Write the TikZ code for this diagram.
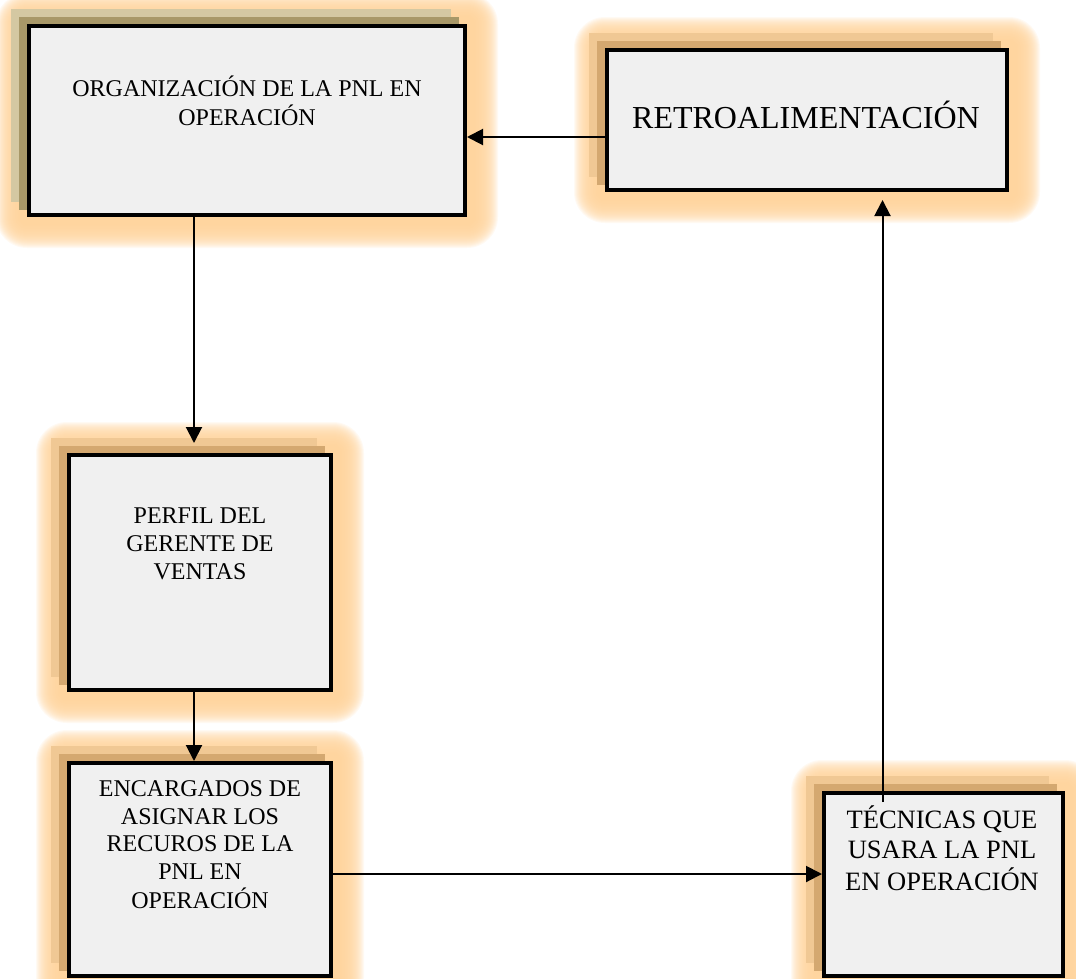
\documentclass[tikz,border=0pt]{standalone}
\usepackage{fontspec}
\setmainfont{Liberation Serif}
\usetikzlibrary{arrows.meta}

\definecolor{glowc}{RGB}{255,211,155}
\definecolor{boxfill}{RGB}{240,240,240}
\definecolor{shdarkA}{RGB}{168,152,104}
\definecolor{shlightA}{RGB}{212,200,162}
\definecolor{shdark}{RGB}{212,168,112}
\definecolor{shlight}{RGB}{240,200,148}

% soft orange halo round a box: many faint rounded layers
\newcommand{\halo}[1]{%
  \foreach \d in {6,7,...,31}{%
    \fill[glowc, opacity=0.12, rounded corners=\d pt]
      ([shift={(-\d,-\d)}]#1.north west) rectangle ([shift={(\d,\d)}]#1.south east);
  }%
}
% two stacked offset shadows
\newcommand{\boxshadow}[3]{%
  \fill[#2] ([shift={(-16,-15)}]#1.north west) rectangle ([shift={(-16,-15)}]#1.south east);
  \fill[#3] ([shift={(-8,-7)}]#1.north west) rectangle ([shift={(-8,-7)}]#1.south east);
}

\tikzset{
  panel/.style={draw=black, line width=4pt, fill=boxfill, inner sep=0pt},
  frame/.style={inner sep=0pt, outer sep=2pt},
  txt/.style={inner sep=0pt, anchor=base, text=black},
  arr/.style={line width=2pt, -{Triangle[length=16pt,width=16pt]}},
}

\begin{document}
\begin{tikzpicture}[x=1pt, y=-1pt]
\useasboundingbox (0,0) rectangle (1076,978);
\clip (0,0) rectangle (1076,978);

% box geometry (centres and sizes of the border paths)
\path
  (247,120.5)   node[frame, minimum width=436pt, minimum height=189pt] (A) {}
  (807,120)     node[frame, minimum width=400pt, minimum height=140pt] (R) {}
  (200,572.5)   node[frame, minimum width=262pt, minimum height=235pt] (P) {}
  (200,869.5)   node[frame, minimum width=262pt, minimum height=213pt] (E) {}
  (943.5,884.5) node[frame, minimum width=239pt, minimum height=183pt] (T) {};

% halos
\halo{A}
\halo{R}
\halo{P}
\halo{E}
\halo{T}

% shadows
\boxshadow{A}{shlightA}{shdarkA}
\boxshadow{R}{shlight}{shdark}
\boxshadow{P}{shlight}{shdark}
\boxshadow{E}{shlight}{shdark}
\boxshadow{T}{shlight}{shdark}

% framed boxes
\node[panel, minimum width=436pt, minimum height=189pt] (Ab) at (A) {};
\node[panel, minimum width=400pt, minimum height=140pt] (Rb) at (R) {};
\node[panel, minimum width=262pt, minimum height=235pt] (Pb) at (P) {};
\node[panel, minimum width=262pt, minimum height=213pt] (Eb) at (E) {};
\node[panel, minimum width=239pt, minimum height=183pt] (Tb) at (T) {};

% labels
\node[txt, font=\fontsize{24}{28.3}\selectfont] (At) at (247,96.7)
  {\begin{tabular}[t]{@{}c@{}}ORGANIZACIÓN DE LA PNL EN\\OPERACIÓN\end{tabular}};
\node[txt, font=\fontsize{32}{36}\selectfont] (Rt) at (806,128) {RETROALIMENTACIÓN};
\node[txt, font=\fontsize{24}{28}\selectfont] (Pt) at (200,523)
  {\begin{tabular}[t]{@{}c@{}}PERFIL DEL\\GERENTE DE\\VENTAS\end{tabular}};
\node[txt, font=\fontsize{24}{27.5}\selectfont] (Et) at (200,796.7)
  {\begin{tabular}[t]{@{}c@{}}ENCARGADOS DE\\ASIGNAR LOS\\RECUROS DE LA\\PNL EN\\OPERACIÓN\end{tabular}};
\node[txt, font=\fontsize{26.5}{30.5}\selectfont] (Tt) at (942,828)
  {\begin{tabular}[t]{@{}c@{}}TÉCNICAS QUE\\USARA LA PNL\\EN OPERACIÓN\end{tabular}};

% connectors
\draw[arr] ([yshift=-17pt]Rb.west) -- ([yshift=-17pt]Rb.west -| Ab.east);
\draw[arr] ([xshift=-6pt]Pb.north |- Ab.south) -- ([xshift=-6pt,yshift=10pt]Pb.north);
\draw[arr] ([xshift=-6pt]Pb.south) -- ([xshift=-6pt]Eb.north);
\draw[arr] ([yshift=-4.5pt]Eb.east) -- ([yshift=-4.5pt]Eb.east -| Tb.west);
\draw[arr, shorten >=8pt] ([xshift=-61pt,yshift=-11pt]Tb.north) -- ([xshift=-61pt]Tb.north |- Rb.south);
\end{tikzpicture}
\end{document}
